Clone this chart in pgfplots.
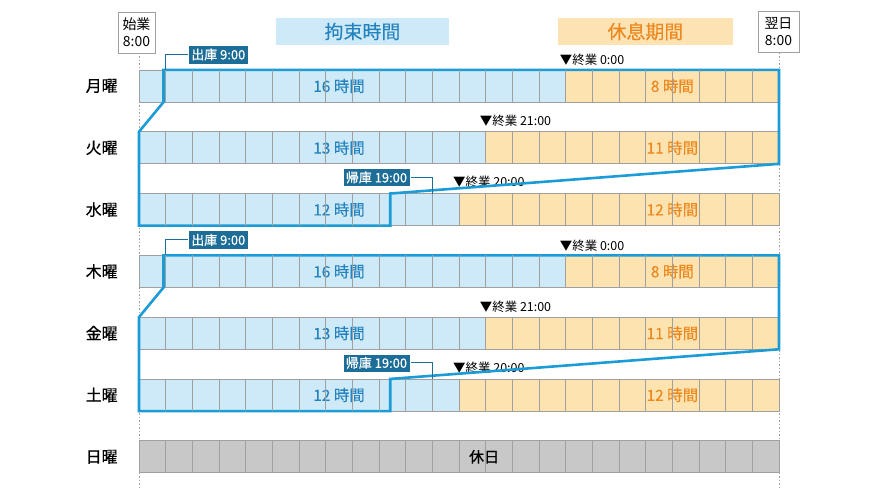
\documentclass[border=0pt]{standalone}
\usepackage{fontspec}
\setmainfont{Noto Sans CJK JP}
\newfontfamily\med{Noto Sans CJK JP}[FakeBold=0.45]
\newfontfamily\lite{Noto Sans CJK JP}[FakeBold=0.2]
\usepackage{pgfplots}
\pgfplotsset{compat=1.18}
\definecolor{cblue}{RGB}{206,234,248}
\definecolor{corange}{RGB}{253,227,176}
\definecolor{cgray}{RGB}{200,200,200}
\definecolor{cgrid}{RGB}{160,160,160}
\definecolor{cline}{RGB}{27,156,214}
\definecolor{cdark}{RGB}{28,110,152}
\definecolor{ctextblue}{RGB}{36,130,190}
\definecolor{ctextorange}{RGB}{236,136,30}
\definecolor{cboxorange}{RGB}{253,227,179}
\newcommand{\fs}[1]{\fontsize{#1}{#1}\selectfont}
\begin{document}
\begin{tikzpicture}
\begin{axis}[
  scale only axis, width=880bp, height=495bp,
  xmin=-5.2125, xmax=27.7875,
  ymin=-1.3916, ymax=6.618, y dir=reverse,
  hide axis, clip=false,
]
% dotted guides
\addplot[cgrid, dash pattern=on 1.5bp off 2bp, line width=1bp, mark=none] coordinates {(0,-0.534) (0,6.49)};
\addplot[cgrid, dash pattern=on 1.5bp off 2bp, line width=1bp, mark=none] coordinates {(24,-0.534) (24,6.49)};
% Sunday (holiday)
\addplot[xbar, bar shift=0pt, bar width=32bp, fill=cgray, draw=cgrid, line width=0.8bp] coordinates {(24,6)};
% rest period (orange) full row, then restraint (blue) over it
\addplot[xbar, bar shift=0pt, bar width=32bp, fill=corange, draw=cgrid, line width=0.8bp] coordinates {(24,0) (24,1) (24,2) (24,3) (24,4) (24,5)};
\addplot[xbar, bar shift=0pt, bar width=32bp, fill=cblue, draw=cgrid, line width=0.8bp] coordinates {(16,0) (13,1) (12,2) (16,3) (13,4) (12,5)};
% hourly cell dividers
\addplot[only marks, mark=|, mark size=16bp, color=cgrid, line width=0.8bp] coordinates {
(1,0)(2,0)(3,0)(4,0)(5,0)(6,0)(7,0)(8,0)(9,0)(10,0)(11,0)(12,0)(13,0)(14,0)(15,0)(16,0)(17,0)(18,0)(19,0)(20,0)(21,0)(22,0)(23,0)
(1,1)(2,1)(3,1)(4,1)(5,1)(6,1)(7,1)(8,1)(9,1)(10,1)(11,1)(12,1)(13,1)(14,1)(15,1)(16,1)(17,1)(18,1)(19,1)(20,1)(21,1)(22,1)(23,1)
(1,2)(2,2)(3,2)(4,2)(5,2)(6,2)(7,2)(8,2)(9,2)(10,2)(11,2)(12,2)(13,2)(14,2)(15,2)(16,2)(17,2)(18,2)(19,2)(20,2)(21,2)(22,2)(23,2)
(1,3)(2,3)(3,3)(4,3)(5,3)(6,3)(7,3)(8,3)(9,3)(10,3)(11,3)(12,3)(13,3)(14,3)(15,3)(16,3)(17,3)(18,3)(19,3)(20,3)(21,3)(22,3)(23,3)
(1,4)(2,4)(3,4)(4,4)(5,4)(6,4)(7,4)(8,4)(9,4)(10,4)(11,4)(12,4)(13,4)(14,4)(15,4)(16,4)(17,4)(18,4)(19,4)(20,4)(21,4)(22,4)(23,4)
(1,5)(2,5)(3,5)(4,5)(5,5)(6,5)(7,5)(8,5)(9,5)(10,5)(11,5)(12,5)(13,5)(14,5)(15,5)(16,5)(17,5)(18,5)(19,5)(20,5)(21,5)(22,5)(23,5)
(1,6)(2,6)(3,6)(4,6)(5,6)(6,6)(7,6)(8,6)(9,6)(10,6)(11,6)(12,6)(13,6)(14,6)(15,6)(16,6)(17,6)(18,6)(19,6)(20,6)(21,6)(22,6)(23,6)
};
% end-of-work labels
\node[anchor=west, inner sep=0pt, font=\fs{12.5}] at (axis cs:15.775,-0.421) {▼終業 0:00};
\node[anchor=west, inner sep=0pt, font=\fs{12.5}] at (axis cs:12.775,0.566) {▼終業 21:00};
\node[anchor=west, inner sep=0pt, font=\fs{12.5}] at (axis cs:11.775,1.553) {▼終業 20:00};
\node[anchor=west, inner sep=0pt, font=\fs{12.5}] at (axis cs:15.775,2.579) {▼終業 0:00};
\node[anchor=west, inner sep=0pt, font=\fs{12.5}] at (axis cs:12.775,3.566) {▼終業 21:00};
\node[anchor=west, inner sep=0pt, font=\fs{12.5}] at (axis cs:11.775,4.553) {▼終業 20:00};
% restraint outlines
\addplot[cline, line width=2.6bp, line join=miter, mark=none] coordinates {(0.92,-0.26) (24,-0.26) (24,1.26) (9.42,1.74) (9.42,2.26) (0,2.26) (0,0.74) (0.92,0.26)} --cycle;
\addplot[cline, line width=2.6bp, line join=miter, mark=none] coordinates {(0.92,2.74) (24,2.74) (24,4.26) (9.42,4.74) (9.42,5.26) (0,5.26) (0,3.74) (0.92,3.26)} --cycle;
% connectors
\addplot[cdark, line width=0.9bp, mark=none] coordinates {(1.0,-0.26) (1.0,-0.51) (1.85,-0.51)};
\addplot[cdark, line width=0.9bp, mark=none] coordinates {(1.0,2.74) (1.0,2.49) (1.85,2.49)};
\addplot[cdark, line width=0.9bp, mark=none] coordinates {(10.16,1.48) (11.0,1.48) (11.0,1.74)};
\addplot[cdark, line width=0.9bp, mark=none] coordinates {(10.16,4.48) (11.0,4.48) (11.0,4.74)};
\node[fill=cdark, draw=white, line width=0.6bp, text=white, inner sep=0pt, minimum width=60bp, minimum height=19bp, font=\med\fs{13}] at (axis cs:2.974,-0.51) {出庫 9:00};
\node[fill=cdark, draw=white, line width=0.6bp, text=white, inner sep=0pt, minimum width=60bp, minimum height=19bp, font=\med\fs{13}] at (axis cs:2.974,2.49) {出庫 9:00};
\node[fill=cdark, draw=white, line width=0.6bp, text=white, inner sep=0pt, minimum width=67bp, minimum height=18bp, font=\med\fs{13}] at (axis cs:8.906,1.48) {帰庫 19:00};
\node[fill=cdark, draw=white, line width=0.6bp, text=white, inner sep=0pt, minimum width=67bp, minimum height=18bp, font=\med\fs{13}] at (axis cs:8.906,4.48) {帰庫 19:00};
% cell texts
\node[text=ctextblue, font=\lite\fs{15.5}] at (axis cs:7.5,0) {16 時間};
\node[text=ctextblue, font=\lite\fs{15.5}] at (axis cs:7.5,1) {13 時間};
\node[text=ctextblue, font=\lite\fs{15.5}] at (axis cs:7.5,2) {12 時間};
\node[text=ctextblue, font=\lite\fs{15.5}] at (axis cs:7.5,3) {16 時間};
\node[text=ctextblue, font=\lite\fs{15.5}] at (axis cs:7.5,4) {13 時間};
\node[text=ctextblue, font=\lite\fs{15.5}] at (axis cs:7.5,5) {12 時間};
\node[text=ctextorange, font=\lite\fs{15.5}] at (axis cs:20,0) {8 時間};
\node[text=ctextorange, font=\lite\fs{15.5}] at (axis cs:20,1) {11 時間};
\node[text=ctextorange, font=\lite\fs{15.5}] at (axis cs:20,2) {12 時間};
\node[text=ctextorange, font=\lite\fs{15.5}] at (axis cs:20,3) {8 時間};
\node[text=ctextorange, font=\lite\fs{15.5}] at (axis cs:20,4) {11 時間};
\node[text=ctextorange, font=\lite\fs{15.5}] at (axis cs:20,5) {12 時間};
\node[font=\med\fs{15}] at (axis cs:12.94,6) {休日};
% day labels
\node[font=\med\fs{16}] at (axis cs:-1.4,0) {月曜};
\node[font=\med\fs{16}] at (axis cs:-1.4,1) {火曜};
\node[font=\med\fs{16}] at (axis cs:-1.4,2) {水曜};
\node[font=\med\fs{16}] at (axis cs:-1.4,3) {木曜};
\node[font=\med\fs{16}] at (axis cs:-1.4,4) {金曜};
\node[font=\med\fs{16}] at (axis cs:-1.4,5) {土曜};
\node[font=\med\fs{16}] at (axis cs:-1.4,6) {日曜};
% header boxes
\node[draw=cgrid, fill=white, line width=0.8bp, minimum width=37bp, minimum height=41bp, inner sep=1bp, align=center, font=\fontsize{14}{17}\selectfont] at (axis cs:-0.094,-0.866) {始業\\8:00};
\node[draw=cgrid, fill=white, line width=0.8bp, minimum width=41bp, minimum height=41bp, inner sep=1bp, align=center, font=\fontsize{14}{17}\selectfont] at (axis cs:23.98,-0.882) {翌日\\8:00};
\node[fill=cblue, minimum width=173bp, minimum height=27bp, inner sep=0pt, text=ctextblue, font=\lite\fs{19}] at (axis cs:8.38,-0.882) {拘束時間};
\node[fill=cboxorange, minimum width=175bp, minimum height=27bp, inner sep=0pt, text=ctextorange, font=\lite\fs{19}] at (axis cs:18.99,-0.882) {休息期間};
\end{axis}
\pgfresetboundingbox
\useasboundingbox (current axis.south west) rectangle (current axis.north east);
\end{tikzpicture}
\end{document}
